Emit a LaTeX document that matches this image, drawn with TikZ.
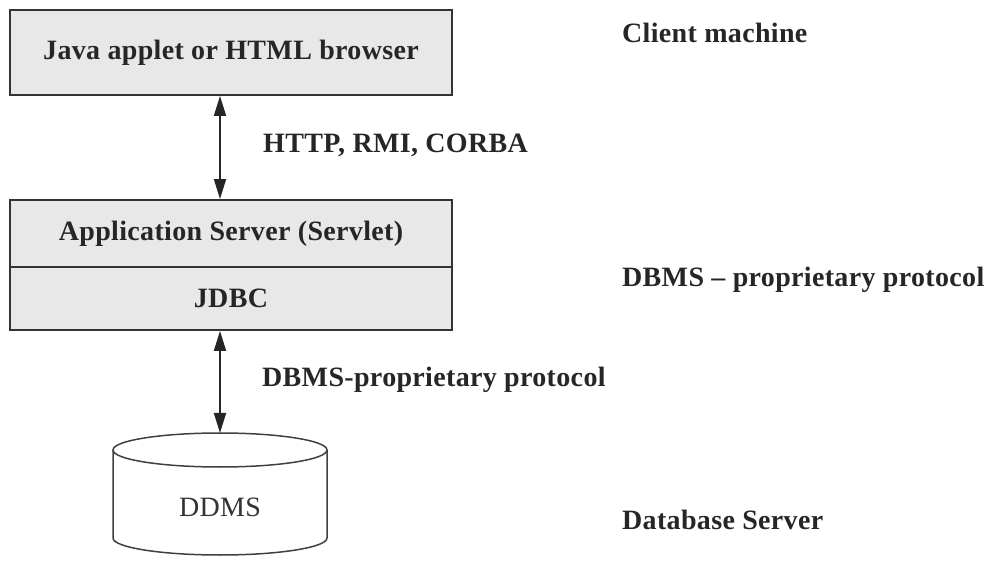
\documentclass[tikz,border=0pt]{standalone}
\usepackage{fontspec}
\setmainfont[LetterSpace=1.2]{Liberation Serif}
\usetikzlibrary{arrows.meta}
\tikzset{
  x=1pt, y=1pt,
  lbl/.style={font=\fontsize{28}{34}\selectfont\bfseries, text=black!85, inner sep=0pt},
  tier/.style={draw=black!80, line width=1.8pt, fill=black!9, minimum width=442pt,
               inner sep=0pt, font=\fontsize{28}{34}\selectfont\bfseries, text=black!85},
  link/.style={line width=1.8pt, draw=black!85,
               {Triangle[length=20pt,width=12pt]}-{Triangle[length=20pt,width=12pt]}},
  cyl/.style={draw=black!75, line width=1.5pt}
}
\begin{document}
\begin{tikzpicture}
\useasboundingbox (0,0) rectangle (988,560);

% client tier
\node[tier, minimum height=85pt] (client) at (231,507.5) {Java applet or HTML browser};

% application server with its JDBC layer
\node[tier, minimum height=67pt] (app) at (231,326.5) {Application Server (Servlet)};
\node[tier, minimum height=63pt] (jdbc) at (231,261.5) {JDBC};

% database cylinder
\coordinate (dbtop) at (220,127);
\draw[cyl, fill=white] (113,110) -- (113,22) arc[start angle=180, end angle=360, x radius=107, y radius=17]
      -- (327,110);
\draw[cyl, fill=white] (220,110) ellipse[x radius=107, y radius=17];
\node[font=\fontsize{28}{34}\selectfont, text=black!80, inner sep=0pt] (db) at (220,53) {DDMS};

% connectors
\draw[link] (client.south -| db) -- (app.north -| db);
\draw[link] (jdbc.south -| db) -- (dbtop);

% protocol labels
\node[lbl, anchor=west] (http) at (263,415) {HTTP, RMI, CORBA};
\node[lbl, anchor=west] (dbp) at (262,180) {DBMS-proprietary protocol};

% tier captions
\node[lbl, anchor=west] (cm) at (622,527) {Client machine};
\node[lbl, anchor=west] (dbms) at (622,280) {DBMS -- proprietary protocol};
\node[lbl, anchor=west] (dbs) at (622,40) {Database Server};
\end{tikzpicture}
\end{document}
